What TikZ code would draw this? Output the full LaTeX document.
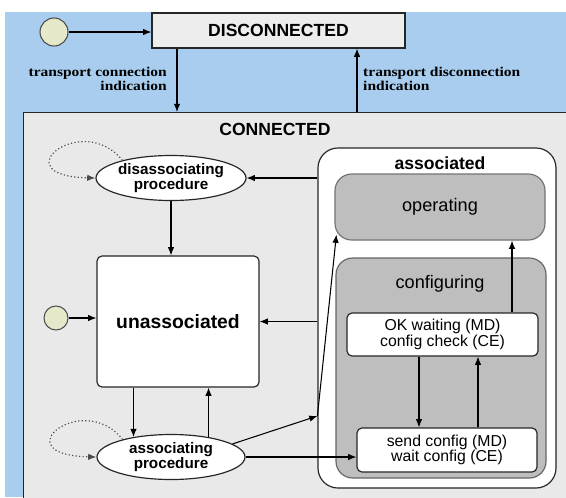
\documentclass[tikz,border=0pt]{standalone}
\usepackage{fontspec}
\setmainfont{Liberation Sans}
\newfontfamily\labelfont[FakeStretch=1.15]{Liberation Serif}
\usetikzlibrary{shapes.geometric}
\usetikzlibrary{arrows.meta}
\definecolor{skyblue}{RGB}{168,205,238}
\definecolor{outergray}{RGB}{233,233,233}
\definecolor{topgray}{RGB}{237,237,237}
\definecolor{innergray}{RGB}{190,190,190}
\definecolor{startfill}{RGB}{230,232,202}
\tikzset{x=0.03cm, y=-0.03cm, % one unit is one pixel of the picture
>={Latex[length=7pt,width=5.5pt]},
every node/.style={inner sep=0pt},
start/.style={ % Sets the properties for the start dots
circle, draw=black!70, line width=0.9pt,
fill=startfill},
bigbox/.style={ % top level states
draw=black!85, line width=1pt},
statebox/.style={ % rounded white states
draw=black!85, line width=1pt,
fill=white, rounded corners=0.15cm},
graybox/.style={
draw=black!55, line width=1pt,
fill=innergray, rounded corners=0.5cm},
proc/.style={ % procedures
ellipse, draw=black!85, line width=1pt,
fill=white, align=center,
font=\fontsize{13}{13.5}\selectfont\bfseries},
substate/.style={
statebox, align=center,
font=\fontsize{13.5}{13}\selectfont},
titlebig/.style={font=\fontsize{15}{17}\selectfont\bfseries},
titlemid/.style={font=\fontsize{15.5}{17}\selectfont},
translabel/.style={font=\labelfont\fontsize{11.5}{11.5}\selectfont\bfseries},
selfloop/.style={->, dotted, line width=1pt, black!70},
every edge/.style={ % Sets the properties for each transition
draw, ->, line width=0.9pt}}
\begin{document}
\begin{tikzpicture}
	\useasboundingbox (0,0) rectangle (566,497);
	\clip (0,0) rectangle (566,497);
	\fill[skyblue] (5,12) rectangle (566,497);
	% top level
	\node[start, minimum size=0.84cm] (s0) at (54,32) {};
	\node[bigbox, fill=topgray, minimum width=7.59cm, minimum height=1.05cm, titlebig] (disc) at (278.5,30.5) {DISCONNECTED};
	\node[bigbox, fill=outergray, minimum width=16.71cm, minimum height=11.94cm, anchor=north west] (con) at (23,112) {};
	\node[titlebig] (contitle) at (275,129) {CONNECTED};
	\draw (s0) edge (s0 -| disc.west);
	\coordinate (tcdown) at ([xshift=-3.045cm]disc.south);
	\coordinate (tdup) at ([xshift=2.355cm]disc.south);
	\draw (tcdown) edge (tcdown |- con.north);
	\draw (tdup |- con.north) edge (tdup);
	\node[translabel, anchor=east, align=right] (tclabel) at (167,79) {transport connection\\indication};
	\node[translabel, anchor=west, align=left] (tdlabel) at (363,79) {transport disconnection\\indication};
	% associated
	\node[statebox, minimum width=7.14cm, minimum height=10.2cm, rounded corners=0.6cm] (ascd) at (437,318) {};
	\node[titlebig] (ascdtitle) at (440,163) {associated};
	\node[graybox, minimum width=6.3cm, minimum height=1.98cm, titlemid] (op) at (440,207) {operating};
	\node[graybox, draw=black!60, minimum width=6.3cm, minimum height=6.6cm] (cfg) at (441,368) {};
	\node[titlemid] (cfgtitle) at (440,284) {configuring};
	\node[substate, minimum width=5.73cm, minimum height=1.29cm] (okw) at (442.5,334.5) {OK waiting (MD)\\config check (CE)};
	\node[substate, minimum width=5.4cm, minimum height=1.32cm] (snd) at (447,450) {send config (MD)\\wait config (CE)};
	% unassociated and procedures
	\node[statebox, minimum width=4.86cm, minimum height=3.93cm, font=\fontsize{16.5}{18}\selectfont\bfseries] (una) at (178,321.5) {unassociated};
	\node[proc, minimum width=4.5cm, minimum height=1.35cm] (dis) at (171,178) {disassociating\\procedure};
	\node[proc, minimum width=4.44cm, minimum height=1.35cm] (as) at (171,457) {associating\\procedure};
	\node[start, minimum size=0.72cm] (s1) at (56,318) {};
	\draw[selfloop] (dis.160) .. controls +(-40,-50) and +(-95,-2) .. (dis.west);
	\draw[selfloop] (as.160) .. controls +(-40,-50) and +(-95,-2) .. (as.west);
	\draw (ascd.west |- dis.east) edge (dis.east);
	\draw (ascd.west |- una.east) edge (una.east);
	\draw (dis.south) edge (dis.south |- una.north);
	\draw (s1) edge (s1 -| una.west);
	\draw (as.152 |- una.south) edge (as.152);
	\draw (as.28) edge (as.28 |- una.south);
	\draw (as.east) edge (as.east -| snd.west);
	\coordinate (ascdin) at ([yshift=-2.94cm]ascd.west);
	\draw (as.12) edge (ascdin);
	\draw (ascdin) edge ([xshift=0.06cm,yshift=0.18cm]op.south west);
	% inside configuring
	\coordinate (cfgdown) at ([xshift=-0.705cm]okw.south);
	\coordinate (cfgup) at ([xshift=1.065cm]okw.south);
	\coordinate (opup) at ([xshift=2.085cm]okw.north);
	\draw (cfgdown) edge (cfgdown |- snd.north);
	\draw (cfgup |- snd.north) edge (cfgup);
	\draw (opup) edge (opup |- op.south);
\end{tikzpicture}
\end{document}
